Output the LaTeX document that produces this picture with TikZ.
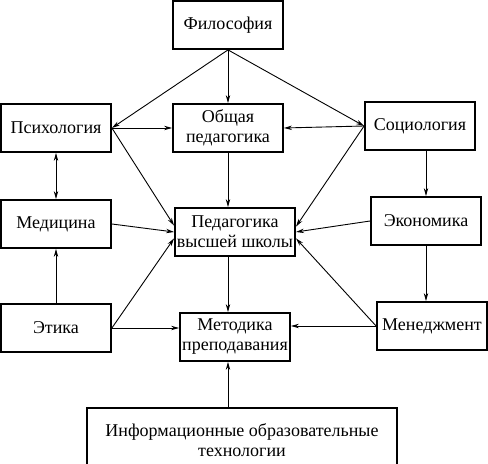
\documentclass[tikz,border=0pt]{standalone}
\usepackage{fontspec}
\setmainfont{Liberation Serif}
\usetikzlibrary{arrows.meta}

\begin{document}
\begin{tikzpicture}[x=0.5pt,y=-0.5pt,>={Stealth[length=4pt,width=2.2pt]},
    box/.style={draw,line width=0.9pt,minimum width=55pt,minimum height=24pt,
      inner sep=1pt,align=center,font=\fontsize{9}{10}\selectfont},
    link/.style={line width=0.45pt}]
      \useasboundingbox (0,0) rectangle (488,464);
      \node[box](filos) at (228,25) {Философия};
      \node[box](psych) at (56,128) {Психология};
      \node[box](obsh) at (228,128) {Общая\\педагогика};
      \node[box](socio) at (420,126) {Социология};
      \node[box](med) at (56,224) {Медицина};
      \node[box](ped) at (235,232) {Педагогика\\высшей школы};
      \node[box](econ) at (426,221) {Экономика};
      \node[box](etika) at (56,328) {Этика};
      \node[box](metod) at (235,337) {Методика\\преподавания};
      \node[box](menedzh) at (432,326) {Менеджмент};
      \node[box,minimum width=155pt,minimum height=32pt](inform) at (242,440)
        {Информационные образовательные\\технологии};
      % top level
      \path[->,link] (filos.south) edge (psych.east);
      \path[->,link] (filos.south) edge (obsh.north);
      \path[->,link] (filos.south) edge (socio.west);
      \path[->,link] (psych.east) edge (obsh.west);
      \path[->,link] (socio.west) edge (obsh.east);
      % into the centre
      \path[->,link] (psych.east) edge (ped.174);
      \path[->,link] (med.east) edge (ped.west);
      \path[->,link] (etika.east) edge (ped.186);
      \path[->,link] (socio.west) edge (ped.5);
      \path[->,link] (econ.west) edge (ped.east);
      \path[->,link] (menedzh.west) edge (ped.354);
      \path[->,link] (obsh.south) edge (obsh.south |- ped.north);
      % side columns
      \path[<->,link] (psych.south) edge (med.north);
      \path[->,link] (etika.north) edge (med.south);
      \path[->,link] (socio.south -| econ.north) edge (econ.north);
      \path[->,link] (econ.south) edge (econ.south |- menedzh.north);
      % bottom
      \path[->,link] (obsh.south |- ped.south) edge (obsh.south |- metod.north);
      \path[->,link] (etika.east) edge (etika.east -| metod.west);
      \path[->,link] (menedzh.west) edge (menedzh.west -| metod.east);
      \path[->,link] (obsh.south |- inform.north) edge (obsh.south |- metod.south);
    \end{tikzpicture}
\end{document}
